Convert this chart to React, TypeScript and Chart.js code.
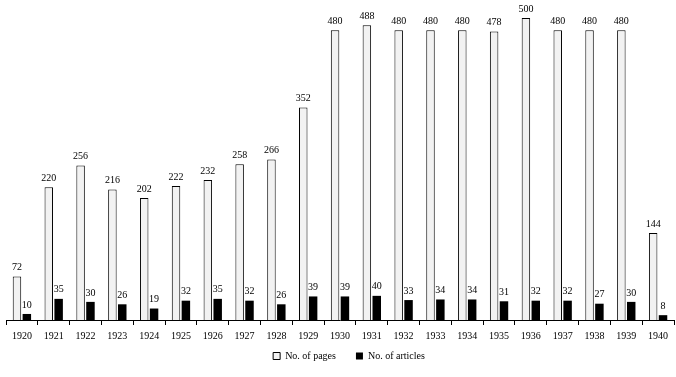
import React, { useEffect, useRef } from "react";
import { Chart, registerables } from "chart.js";

Chart.register(...registerables);

const years = ["1920","1921","1922","1923","1924","1925","1926","1927","1928","1929","1930","1931","1932","1933","1934","1935","1936","1937","1938","1939","1940"];
const pages = [72,220,256,216,202,222,232,258,266,352,480,488,480,480,480,478,500,480,480,480,144];
const articles = [10,35,30,26,19,32,35,32,26,39,39,40,33,34,34,31,32,32,27,30,8];

const FONT = "'Liberation Serif', 'Times New Roman', serif";

const labelPlugin = {
  id: "barValueLabels",
  afterLayout(chart: any) {
    if (chart.legend) {
      chart.legend.left += 18;
    }
    if (chart.scales.x) {
      chart.scales.x.bottom = chart.height;
    }
  },
  afterDatasetsDraw(chart: any) {
    const ctx = chart.ctx;
    ctx.save();
    ctx.font = `10px ${FONT}`;
    ctx.fillStyle = "#000";
    ctx.textAlign = "center";
    ctx.textBaseline = "bottom";
    chart.data.datasets.forEach((ds: any, di: number) => {
      const meta = chart.getDatasetMeta(di);
      meta.data.forEach((el: any, i: number) => {
        ctx.fillText(String(ds.data[i]), el.x, el.y - 4);
      });
    });
    ctx.restore();
  },
};

export default function App() {
  const ref = useRef<HTMLCanvasElement | null>(null);
  useEffect(() => {
    if (!ref.current) return;
    const chart = new Chart(ref.current, {
      type: "bar",
      data: {
        labels: years,
        datasets: [
          {
            label: "No. of pages",
            data: pages,
            backgroundColor: "#f2f2f2",
            borderColor: "#000",
            borderWidth: 1,
            categoryPercentage: 0.62,
            barPercentage: 0.86,
          },
          {
            label: "No. of articles",
            data: articles,
            backgroundColor: "#000",
            borderColor: "#000",
            borderWidth: 0,
            categoryPercentage: 0.62,
            barPercentage: 0.86,
          },
        ],
      },
      options: {
        responsive: false,
        animation: false,
        layout: { padding: { left: 6, right: 2, top: 0, bottom: 6 } },
        plugins: {
          tooltip: { enabled: false },
          legend: {
            position: "bottom",
            labels: {
              boxWidth: 7,
              boxHeight: 7,
              padding: 20,
              color: "#000",
              font: { family: FONT, size: 10 },
            },
          },
        },
        scales: {
          x: {
            afterFit(scale: any) {
              scale.height = 11;
            },
            grid: {
              display: true,
              drawOnChartArea: false,
              drawTicks: true,
              tickLength: 5,
              color: "#000",
              offset: true,
            },
            border: { display: true, color: "#000", width: 1 },
            ticks: {
              color: "#000",
              font: { family: FONT, size: 10 },
              padding: 5,
              maxRotation: 0,
              autoSkip: false,
            },
          },
          y: {
            display: false,
            min: 0,
            max: 530,
          },
        },
      },
      plugins: [labelPlugin],
    });
    return () => chart.destroy();
  }, []);
  return (
    <div style={{ position: "fixed", left: 0, top: 0, width: 676, height: 377, background: "#fff" }}>
      <canvas ref={ref} width={676} height={377} style={{ width: 676, height: 377, display: "block" }} />
    </div>
  );
}
